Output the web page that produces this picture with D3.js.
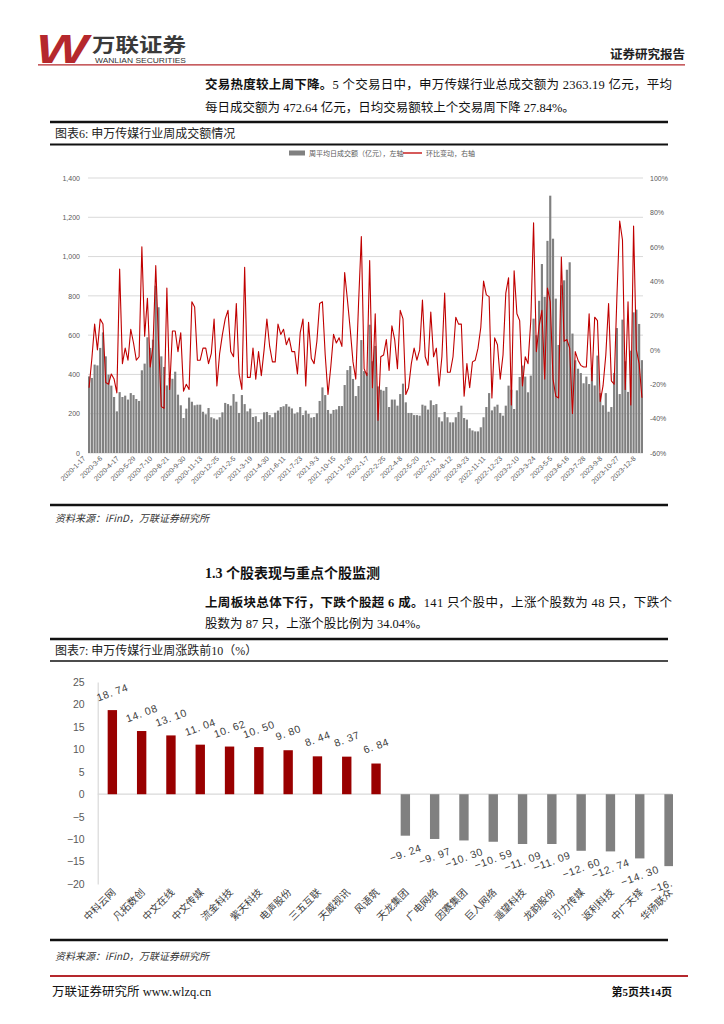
<!DOCTYPE html>
<html>
<head>
<meta charset="utf-8">
<script src="https://cdn.jsdelivr.net/npm/d3@7"></script>
<style>
  body { margin: 0; background: #fff; }
  svg { display: block; }
</style>
</head>
<body>
<svg id="page" width="724" height="1024"></svg>
<script>
// weekly average daily turnover (100m yuan), left axis
const weeklyVolume = [
  390,382,450,446,535,614,492,399,343,285,
  212,310,285,292,272,305,295,275,265,421,
  455,589,535,577,852,742,492,438,344,383,
  378,414,297,243,178,226,282,261,243,246,
  246,210,197,229,182,176,170,182,207,255,
  249,241,300,261,204,295,249,212,226,183,
  187,158,171,207,209,193,182,205,216,234,
  238,249,236,227,200,207,234,193,216,
  199,180,183,202,265,334,295,219,199,219,222,239,239,346,422,443,377,290,341,575,417,409,
  653,467,545,339,322,317,336,234,272,272,
  241,300,353,258,204,204,193,193,190,246,
  241,221,268,244,249,182,161,209,182,156,
  156,182,209,241,178,170,126,115,110,110,
  131,182,234,305,217,236,246,204,190,241,
  343,322,224,319,387,445,389,309,394,
  684,600,775,962,795,1080,1310,
  1091,786,550,854,879,933,971,608,472,429,
  407,355,389,351,433,344,496,305,243,305,
  210,234,407,636,300,679,467,311,521,716,
  730,657,472.64
];

// week-on-week change (%), right axis
const weeklyChange = [
  -22,-5,15,0,18,15,-19,-20,-14,-17,
  -25,47,-8,1,-6,12,4,-6,-4,60,
  8,30,-10,2,49,5,-33,-34,36,-23,
  11,11,-1,10,-24,-20,-23,28,25,-6,
  -6,1,1,-8,-2,18,-21,-2,9,18,
  23,-1,-4,27,-14,-23,48,-16,-16,1,
  -17,-1,-15,0,18,2,-7,-7,15,9,
  12,3,7,-1,-1,-14,10,18,-21,16,
  -5,-8,5,27,28,-3,-26,-10,9,4,
  7,2,45,29,12,-7,-17,27,66,-11,
  -15,52,-22,21,-41,-4,-3,6,-12,14,
  6,-11,23,18,-26,-22,-8,1,-6,0,
  29,-4,-9,22,-4,1,-21,-4,33,-13,
  -13,-4,19,15,15,-27,-8,-22,-7,-6,
  1,13,40,32,31,-28,7,3,-17,-3,
  33,42,-32,46,21,17,-21,-4,-8,17,
  74,-1,14,23,-17,36,28,-17,-27,-28,
  54,5,6,1,-37,-1,-6,-9,-10,-10,
  21,-18,19,17,-30,-21,-3,27,-18,-20,
  31,75,64,-23,28,-32,72,0,-8,-27.84
];

// one label every 6 weeks
const volumeTickLabels = [
  "2020-1-17","2020-3-6","2020-4-17","2020-5-29","2020-7-10","2020-8-21",
  "2020-9-30","2020-11-13","2020-12-25","2021-2-5","2021-3-19","2021-4-30",
  "2021-6-11","2021-7-23","2021-9-3","2021-10-15","2021-11-26","2022-1-7",
  "2022-2-25","2022-4-8","2022-5-20","2022-7-1","2022-8-12","2022-9-23",
  "2022-11-11","2022-12-23","2023-2-10","2023-3-24","2023-5-5","2023-6-16",
  "2023-7-28","2023-9-8","2023-10-27","2023-12-8"
];

const stockNames = [
  "中科云网","凡拓数创","中文在线","中文传媒","流金科技","紫天科技","电声股份",
  "三五互联","天威视讯","风语筑","天龙集团","广电网络","因赛集团","巨人网络",
  "遥望科技","龙韵股份","引力传媒","返利科技","中广天择","华扬联众"
];
const stockChanges = [
  18.74,14.08,13.10,11.04,10.62,10.50,9.80,8.44,8.37,6.84,
  -9.24,-9.97,-10.30,-10.59,-11.09,-11.09,-12.60,-12.74,-14.30,-16.02
];

const CJK = '"Noto Sans CJK SC", sans-serif';
const SERIF = '"Liberation Serif", "Noto Sans CJK SC", serif';
const SANS = '"Liberation Sans", "Noto Sans CJK SC", sans-serif';

var svg = d3.select("#page");

function hline(y, x0, x1, w, color) {
  svg.append("line")
    .attr("x1", x0).attr("x2", x1).attr("y1", y).attr("y2", y)
    .attr("stroke", color).attr("stroke-width", w);
}

// a text line made of [string, bold] runs
function richLine(x, y, runs, opts) {
  var t = svg.append("text")
    .attr("x", x).attr("y", y)
    .attr("font-family", SERIF)
    .attr("font-size", 12.5)
    .attr("fill", "#111");
  if (opts && opts.len) t.attr("textLength", opts.len).attr("lengthAdjust", "spacing");
  runs.forEach(function (r) {
    t.append("tspan").attr("font-weight", r[1] ? "bold" : "normal").text(r[0]);
  });
  return t;
}

// ---------- header ----------
svg.append("text")
  .attr("x", 36).attr("y", 63)
  .attr("font-family", SANS).attr("font-weight", "bold").attr("font-style", "italic")
  .attr("font-size", 40).attr("fill", "#b5282d")
  .attr("textLength", 52).attr("lengthAdjust", "spacingAndGlyphs")
  .text("W");
svg.append("text")
  .attr("x", 92).attr("y", 51.5)
  .attr("font-family", CJK).attr("font-weight", "bold")
  .attr("font-size", 19).attr("fill", "#3a3a3a")
  .attr("textLength", 94).attr("lengthAdjust", "spacingAndGlyphs")
  .text("万联证券");
svg.append("text")
  .attr("x", 95).attr("y", 63.2)
  .attr("font-family", SANS).attr("font-size", 6.4).attr("fill", "#333")
  .attr("textLength", 91).attr("lengthAdjust", "spacingAndGlyphs")
  .text("WANLIAN SECURITIES");
svg.append("text")
  .attr("x", 685).attr("y", 59).attr("text-anchor", "end")
  .attr("font-family", CJK).attr("font-weight", "bold")
  .attr("font-size", 12.5).attr("fill", "#222")
  .text("证券研究报告");
hline(64.8, 38, 685, 1.3, "#b5282d");

richLine(205, 89, [["交易热度较上周下降。", true],
  ["5 个交易日中，申万传媒行业总成交额为 2363.19 亿元，平均", false]], { len: 467 });
richLine(205, 112, [["每日成交额为 472.64 亿元，日均交易额较上个交易周下降 27.84%。", false]]);

// ---------- chart 6 ----------
hline(122, 50, 668, 2.5, "#111");
svg.append("text")
  .attr("x", 55).attr("y", 138)
  .attr("font-family", SERIF).attr("font-size", 12).attr("fill", "#222")
  .text("图表6:  申万传媒行业周成交额情况");
hline(144.5, 50, 668, 2, "#111");

// legend
svg.append("rect").attr("x", 289).attr("y", 150.5).attr("width", 16).attr("height", 5).attr("fill", "#808080");
svg.append("text").attr("x", 309).attr("y", 155.5)
  .attr("font-family", CJK).attr("font-size", 7).attr("fill", "#595959")
  .text("周平均日成交额（亿元），左轴");
hline(153, 403, 422, 1.3, "#c00000");
svg.append("text").attr("x", 426).attr("y", 155.5)
  .attr("font-family", CJK).attr("font-size", 7).attr("fill", "#595959")
  .text("环比变动，右轴");

var x1 = d3.scaleBand()
  .domain(d3.range(weeklyVolume.length))
  .range([88, 643])
  .paddingInner(0.22);
var yL = d3.scaleLinear().domain([0, 1400]).range([453, 178]);
var yR = d3.scaleLinear().domain([-60, 100]).range([453, 178]);

var g1 = svg.append("g");

g1.selectAll("line.grid")
  .data(yL.ticks(7))
  .enter().append("line")
  .attr("class", "grid")
  .attr("x1", 88).attr("x2", 643)
  .attr("y1", d => yL(d)).attr("y2", d => yL(d))
  .attr("stroke", "#d9d9d9").attr("stroke-width", 1);

g1.selectAll("rect.vol")
  .data(weeklyVolume)
  .enter().append("rect")
  .attr("class", "vol")
  .attr("x", (d, i) => x1(i))
  .attr("width", x1.bandwidth())
  .attr("y", d => yL(d))
  .attr("height", d => yL(0) - yL(d))
  .attr("fill", "#808080");

var line = d3.line()
  .x((d, i) => x1(i) + x1.bandwidth() / 2)
  .y(d => yR(d));

g1.append("path")
  .datum(weeklyChange)
  .attr("d", line)
  .attr("fill", "none")
  .attr("stroke", "#c00000")
  .attr("stroke-width", 1.1)
  .attr("stroke-linejoin", "round");

var axL = g1.append("g")
  .attr("transform", "translate(88,0)")
  .call(d3.axisLeft(yL).tickValues(d3.range(0, 1401, 200)).tickFormat(d3.format(",")).tickSize(0).tickPadding(8));
var axR = g1.append("g")
  .attr("transform", "translate(643,0)")
  .call(d3.axisRight(yR).tickValues(d3.range(-60, 101, 20)).tickFormat(d => d + "%").tickSize(0).tickPadding(7));
[axL, axR].forEach(function (a) {
  a.select(".domain").remove();
  a.selectAll("text").attr("font-family", SANS).attr("font-size", 7).attr("fill", "#595959");
});

g1.selectAll("text.xlab")
  .data(volumeTickLabels)
  .enter().append("text")
  .attr("class", "xlab")
  .attr("transform", (d, k) => {
    var cx = x1(k * 6) + x1.bandwidth() / 2 - 3;
    return "translate(" + cx + ",459) rotate(-45)";
  })
  .attr("text-anchor", "end")
  .attr("font-family", SANS).attr("font-size", 7).attr("fill", "#595959")
  .text(d => d);

hline(505, 50, 668, 2.5, "#111");
svg.append("text")
  .attr("x", 55).attr("y", 522)
  .attr("font-family", CJK).attr("font-style", "italic")
  .attr("font-size", 10).attr("fill", "#333")
  .text("资料来源：iFinD，万联证券研究所");

// ---------- section 1.3 ----------
svg.append("text")
  .attr("x", 205).attr("y", 578)
  .attr("font-family", SERIF).attr("font-weight", "bold")
  .attr("font-size", 14).attr("fill", "#111")
  .text("1.3  个股表现与重点个股监测");

richLine(205, 607, [["上周板块总体下行，下跌个股超 6 成。", true],
  ["141 只个股中，上涨个股数为 48 只，下跌个", false]], { len: 467 });
richLine(205, 628, [["股数为 87 只，上涨个股比例为 34.04%。", false]]);

// ---------- chart 7 ----------
hline(639, 50, 668, 2.5, "#111");
svg.append("text")
  .attr("x", 55).attr("y", 655)
  .attr("font-family", SERIF).attr("font-size", 12).attr("fill", "#222")
  .text("图表7:  申万传媒行业周涨跌前10（%）");
hline(661, 50, 668, 1.5, "#111");

svg.append("clipPath").attr("id", "clip7")
  .append("rect").attr("x", 0).attr("y", 662).attr("width", 673).attr("height", 270);

var x2 = d3.scaleBand()
  .domain(stockNames)
  .range([97.7, 683.7])
  .paddingInner(0.68)
  .paddingOuter(0.34);
var y2 = d3.scaleLinear().domain([-20, 25]).range([884, 682]);

var g2 = svg.append("g").attr("clip-path", "url(#clip7)");

g2.append("line")
  .attr("x1", 97.7).attr("x2", 672)
  .attr("y1", y2(0)).attr("y2", y2(0))
  .attr("stroke", "#d9d9d9").attr("stroke-width", 1.2);

var ax2 = g2.append("g")
  .attr("transform", "translate(97.7,0)")
  .call(d3.axisLeft(y2).tickValues(d3.range(-20, 26, 5)).tickSize(0).tickPadding(13));
ax2.select(".domain").attr("stroke", "#d9d9d9").attr("stroke-width", 1.2);
ax2.selectAll("text").attr("font-family", SANS).attr("font-size", 10.5).attr("fill", "#595959");

g2.selectAll("rect.stk")
  .data(stockChanges)
  .enter().append("rect")
  .attr("class", "stk")
  .attr("x", (d, i) => x2(stockNames[i]))
  .attr("width", x2.bandwidth())
  .attr("y", d => y2(Math.max(0, d)))
  .attr("height", d => Math.abs(y2(d) - y2(0)))
  .attr("fill", d => d >= 0 ? "#990000" : "#808080");

g2.selectAll("text.val")
  .data(stockChanges)
  .enter().append("text")
  .attr("class", "val")
  .attr("transform", (d, i) => {
    var cx = x2(stockNames[i]) + x2.bandwidth() / 2;
    var cy = d >= 0 ? y2(d) - 18 : y2(d) + 17;
    return "translate(" + cx + "," + cy + ") rotate(-20)";
  })
  .attr("text-anchor", "middle")
  .attr("dominant-baseline", "central")
  .attr("font-family", SANS).attr("font-size", 10.5).attr("fill", "#404040")
  .attr("letter-spacing", 0.6)
  .text(d => d3.format(".2f")(d).replace(".", ". "));

svg.selectAll("text.cat")
  .data(stockNames)
  .enter().append("text")
  .attr("class", "cat")
  .attr("transform", d => {
    var cx = x2(d) + x2.bandwidth() / 2 + 4;
    return "translate(" + cx + ",893) rotate(-45)";
  })
  .attr("text-anchor", "end")
  .attr("font-family", CJK).attr("font-size", 10).attr("fill", "#404040")
  .text(d => d);

hline(940, 50, 668, 2.5, "#111");
svg.append("text")
  .attr("x", 55).attr("y", 960)
  .attr("font-family", CJK).attr("font-style", "italic")
  .attr("font-size", 10).attr("fill", "#333")
  .text("资料来源：iFinD，万联证券研究所");

// ---------- footer ----------
hline(976, 50, 688, 2, "#b5282d");
svg.append("text")
  .attr("x", 52).attr("y", 996)
  .attr("font-family", SERIF).attr("font-size", 12.5).attr("fill", "#111")
  .text("万联证券研究所  www.wlzq.cn");
svg.append("text")
  .attr("x", 672).attr("y", 996).attr("text-anchor", "end")
  .attr("font-family", SERIF).attr("font-size", 11).attr("font-weight", "bold").attr("fill", "#111")
  .text("第5页共14页");
</script>
</body>
</html>
